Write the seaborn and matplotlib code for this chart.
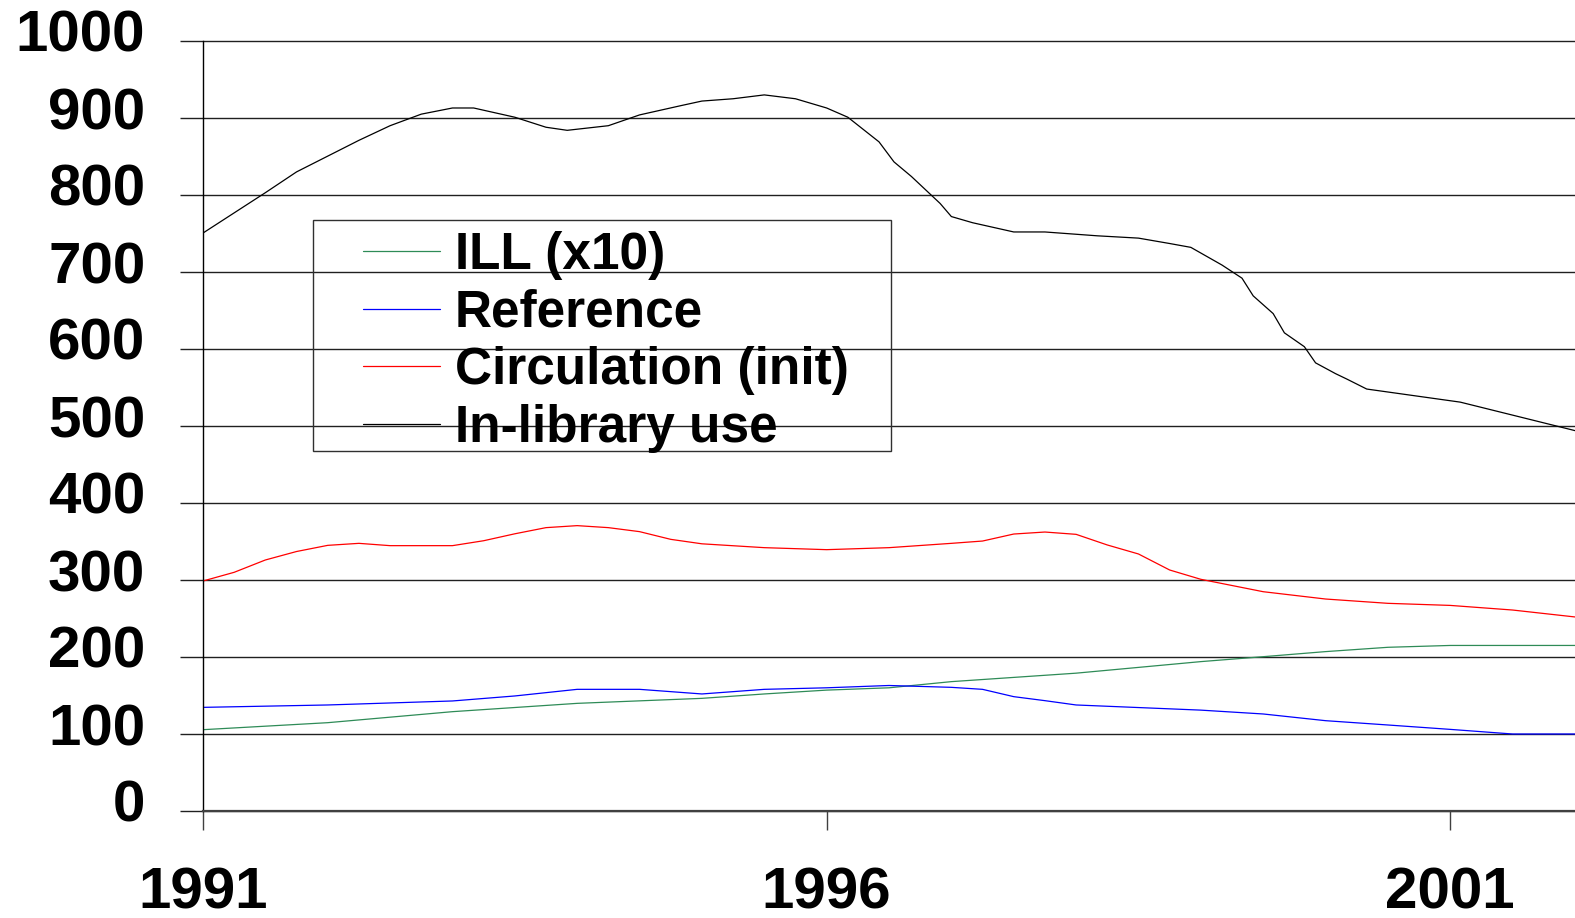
import matplotlib
matplotlib.use("Agg")
import matplotlib.pyplot as plt
import matplotlib.transforms as mtransforms
from matplotlib.patches import Rectangle
import seaborn as sns
import pandas as pd
import numpy as np

# ---- data ----
ill_years = [1991.0, 1992.0, 1993.0, 1994.0, 1995.0, 1995.5, 1996.0, 1996.5, 1997.0,
             1998.0, 1999.0, 1999.5, 2000.0, 2000.5, 2001.0, 2002.0]
ill_vals = [105.6, 114.7, 129.0, 139.8, 146.3, 152.0, 157.0, 160.0, 168.0,
            179.0, 194.0, 200.4, 207.0, 212.6, 215.0, 215.0]

ref_years = [1991.0, 1992.0, 1993.0, 1993.5, 1994.0, 1994.5, 1995.0, 1995.5, 1996.0,
             1996.5, 1997.0, 1997.25, 1997.5, 1997.75, 1998.0, 1999.0, 1999.5,
             2000.0, 2000.5, 2001.0, 2001.5, 2002.0]
ref_vals = [134.6, 137.7, 142.9, 149.4, 158.0, 158.0, 152.0, 158.0, 160.0,
            163.0, 160.6, 158.0, 148.5, 143.3, 137.7, 131.0, 126.0,
            117.3, 111.7, 106.0, 100.0, 100.0]

circ_years = [1991.0, 1991.25, 1991.5, 1991.75, 1992.0, 1992.25, 1992.5, 1993.0,
              1993.25, 1993.5, 1993.75, 1994.0, 1994.25, 1994.5, 1994.75, 1995.0,
              1995.5, 1996.0, 1996.5, 1997.0, 1997.25, 1997.5, 1997.75, 1998.0,
              1998.25, 1998.5, 1998.75, 1999.0, 1999.5, 2000.0, 2000.5, 2001.0,
              2001.5, 2002.0]
circ_vals = [298.7, 310.0, 326.0, 337.0, 345.0, 347.6, 344.6, 344.6,
             351.0, 360.0, 368.0, 370.6, 368.0, 362.8, 352.8, 347.0,
             342.0, 339.4, 342.0, 347.6, 350.6, 359.7, 362.3, 359.3,
             345.5, 333.8, 313.0, 300.9, 284.8, 275.3, 269.7, 267.0,
             261.0, 252.0]

use_years = [1991.0, 1991.5, 1991.75, 1992.25, 1992.5, 1992.75, 1993.0, 1993.17,
             1993.5, 1993.75, 1993.92, 1994.25, 1994.5, 1994.83, 1995.0, 1995.25,
             1995.5, 1995.75, 1996.0, 1996.17, 1996.42, 1996.54, 1996.68, 1996.91,
             1997.0, 1997.17, 1997.5, 1997.75, 1998.17, 1998.5, 1998.75, 1998.92,
             1999.17, 1999.33, 1999.42, 1999.58, 1999.67, 1999.83, 1999.92, 2000.08,
             2000.17, 2000.33, 2001.08, 2002.0]
use_vals = [750.6, 803.0, 830.0, 871.0, 890.0, 905.0, 913.0, 913.0,
            901.0, 888.0, 884.0, 890.0, 904.0, 916.0, 922.0, 925.0,
            930.0, 925.0, 913.0, 901.0, 869.0, 843.0, 824.0, 789.0,
            772.0, 764.0, 752.0, 752.0, 747.0, 744.0, 737.0, 732.0,
            709.0, 692.0, 669.0, 646.0, 621.0, 603.0, 582.0, 568.0,
            561.0, 548.0, 531.0, 494.0]

series_names = ["ILL (x10)", "Reference", "Circulation (init)", "In-library use"]
series_colors = ["#2e8b57", "#0000ff", "#ff0000", "#000000"]
x_ticks = [1991, 1996, 2001]
y_ticks = list(range(0, 1001, 100))

frames = []
for name, xs, ys in zip(series_names,
                        [ill_years, ref_years, circ_years, use_years],
                        [ill_vals, ref_vals, circ_vals, use_vals]):
    frames.append(pd.DataFrame({"year": xs, "value": ys, "series": name}))
df = pd.concat(frames, ignore_index=True)

sns.set_style("white")
plt.rcParams["font.family"] = ["Liberation Sans", "DejaVu Sans"]
for k in ["text.color", "axes.labelcolor", "xtick.labelcolor", "ytick.labelcolor"]:
    plt.rcParams[k] = "black"

W, H = 1575, 918
fig = plt.figure(figsize=(W / 100, H / 100), dpi=100)
ax = fig.add_axes([203 / W, 1 - 811 / H, (W - 203) / W, (811 - 41) / H])

sns.lineplot(data=df, x="year", y="value", hue="series", hue_order=series_names,
             palette=dict(zip(series_names, series_colors)), estimator=None,
             sort=False, linewidth=0.9, ax=ax)

ax.set_xlim(1991, 2002)
ax.set_ylim(0, 1000)
ax.set_xticks(x_ticks)
ax.set_yticks(y_ticks)
ax.set_xticklabels([str(t) for t in x_ticks], fontsize=42, fontweight="bold", color="black")
ax.set_yticklabels([str(t) for t in y_ticks], fontsize=42, fontweight="bold", color="black")
ax.set_xlabel("")
ax.set_ylabel("")

for y in y_ticks:
    ax.axhline(y, color="#202020", linewidth=1.0, zorder=0.5, clip_on=False)

for s in ["top", "right"]:
    ax.spines[s].set_visible(False)
ax.spines["left"].set_color("black")
ax.spines["left"].set_linewidth(1.0)
ax.spines["bottom"].set_color("#404040")
ax.spines["bottom"].set_linewidth(1.6)

ax.tick_params(axis="y", direction="out", length=16.5, width=1.0, color="#202020",
               pad=25, left=True)
ax.tick_params(axis="x", direction="out", length=14, width=1.0, color="#404040",
               pad=26, bottom=True)

# shift y tick labels slightly upward as in the reference
off = mtransforms.ScaledTranslation(0, 10 / 100, fig.dpi_scale_trans)
for lab in ax.get_yticklabels():
    lab.set_transform(lab.get_transform() + off)

# legend: manual frame box + frameless legend
ax_w, ax_h = (W - 203), (811 - 41)
def ax_x(px):
    return (px - 203) / ax_w
def ax_y(py):
    return (811 - py) / ax_h

ax.add_patch(Rectangle((ax_x(313), ax_y(451)), ax_x(891) - ax_x(313), ax_y(220) - ax_y(451),
                       transform=ax.transAxes, fill=False, edgecolor="#303030",
                       linewidth=1.0, zorder=5, clip_on=False))

leg = ax.legend(loc="upper left", bbox_to_anchor=(ax_x(363), ax_y(231)),
                borderaxespad=0, frameon=False,
                prop={"size": 37, "weight": "bold"},
                handlelength=1.5, handletextpad=0.29, labelspacing=0.17,
                borderpad=0)
for line in leg.get_lines():
    line.set_linewidth(0.9)

fig.savefig("out.png", dpi=100)
